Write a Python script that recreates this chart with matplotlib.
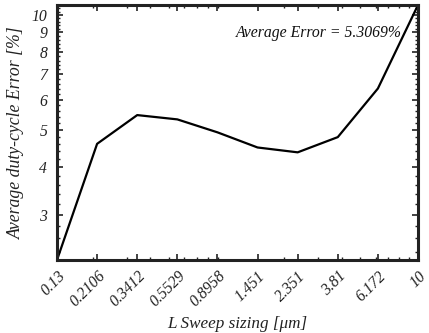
import numpy as np
import matplotlib
matplotlib.use("Agg")
import matplotlib.pyplot as plt
from matplotlib.ticker import FixedLocator, NullFormatter

# fonts: Times-like italic everywhere
plt.rcParams['font.family'] = ['Liberation Serif', 'DejaVu Serif']
plt.rcParams['font.style'] = 'italic'

# sweep values (x) and average error (y)
L_sweep = [0.13, 0.2106, 0.3412, 0.5529, 0.8958, 1.451, 2.351, 3.81, 6.172, 10]
x_labels = ["0.13", "0.2106", "0.3412", "0.5529", "0.8958", "1.451", "2.351", "3.81", "6.172", "10"]
avg_err = [2.284, 4.60, 5.47, 5.33, 4.93, 4.50, 4.37, 4.79, 6.42, 10.62]
y_ticks = [3, 4, 5, 6, 7, 8, 9, 10]
avg_text = "Average Error = 5.3069%"

fig = plt.figure(figsize=(4.29, 3.33), dpi=100)
ax = fig.add_axes([57/429, 1-260/333, 361/429, 255/333])

ax.plot(L_sweep, avg_err, color='black', lw=1.6)
ax.set_xscale('log')
ax.set_yscale('log')
ax.set_xlim(min(L_sweep), max(L_sweep))
ax.set_ylim(min(avg_err), max(avg_err))

# x ticks at the sweep points
ax.xaxis.set_major_locator(FixedLocator(L_sweep))
ax.set_xticklabels(x_labels, rotation=45, ha='right', va='top',
                   rotation_mode='anchor', fontsize=11.3)
ax.xaxis.set_minor_formatter(NullFormatter())

# y ticks
ax.yaxis.set_major_locator(FixedLocator(y_ticks))
ax.set_yticklabels([str(t) for t in y_ticks], fontsize=11.3)
ax.yaxis.set_minor_locator(FixedLocator(np.arange(2.4, 10.61, 0.2)))
ax.yaxis.set_minor_formatter(NullFormatter())

ax.tick_params(which='both', direction='in', top=True, right=True, colors='#222222')
ax.tick_params(which='major', length=4, width=1.2, pad=7)
ax.tick_params(axis='x', which='major', pad=6)
ax.tick_params(which='minor', length=2.5, width=1.0)
for s in ax.spines.values():
    s.set_linewidth(2.2)
    s.set_color('#222222')

ax.set_xlabel("L Sweep sizing [μm]", fontsize=12.3, color='#222222', labelpad=4)
ax.set_ylabel("Average duty-cycle Error [%]", fontsize=12.8, color='#222222', labelpad=5)

ax.text(0.956, 0.89, avg_text, transform=ax.transAxes, ha='right', va='center',
        fontsize=11.3, color='#111111')

fig.savefig("out.png", dpi=100)
